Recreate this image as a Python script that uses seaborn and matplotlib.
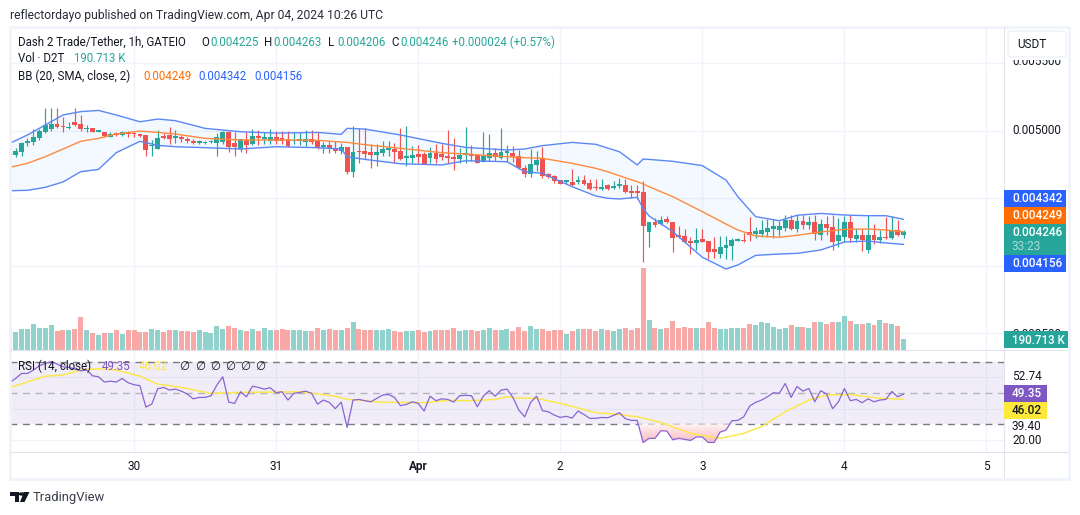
"""TradingView style D2T/USDT snapshot drawn with seaborn and matplotlib."""

import matplotlib.pyplot as plt
import numpy as np
import pandas as pd
import seaborn as sns
from matplotlib.patches import Circle, FancyBboxPatch, Polygon, Rectangle
from matplotlib.path import Path

W, H = 1080, 515
UP = "#26a69a"
DOWN = "#ef5350"
GRID = "#f0f3fa"
EDGE = "#e0e3eb"
INK = "#131722"
BLUE = "#2962ff"
ORANGE = "#ff6d00"
PURPLE = "#7e57c2"
YELLOW = "#ffeb3b"

# prices in millionths of a USDT, one row per hourly bar
opens = [
    4843, 4819, 4843, 4910, 4917, 4942, 4991, 5009, 5046, 5028,
    5016, 5063, 5046, 5011, 5016, 4991, 4986, 4954, 4974, 4967,
    4986, 4976, 4967, 4967, 4883, 4865, 4962, 4967, 4947, 4949,
    4937, 4922, 4910, 4907, 4912, 4910, 4912, 4991, 4905, 4863,
    4930, 4897, 4962, 4940, 4920, 4952, 4942, 4937, 4920, 4925,
    4915, 4937, 4930, 4878, 4893, 4873, 4851, 4878, 4693, 4846,
    4848, 4841, 4821, 4836, 4858, 4863, 4848, 4799, 4799, 4826,
    4826, 4796, 4831, 4823, 4804, 4804, 4789, 4821, 4823, 4818,
    4767, 4799, 4833, 4796, 4836, 4833, 4811, 4722, 4680, 4744,
    4789, 4678, 4663, 4633, 4621, 4619, 4621, 4633, 4611, 4579,
    4567, 4596, 4574, 4591, 4596, 4552, 4544, 4544, 4248, 4322,
    4307, 4344, 4322, 4226, 4218, 4181, 4167, 4194, 4181, 4122,
    4085, 4130, 4144, 4184, 4186, 4248, 4233, 4233, 4248, 4270,
    4263, 4278, 4337, 4270, 4330, 4300, 4322, 4226, 4307, 4285,
    4181, 4211, 4322, 4196, 4226, 4115, 4226, 4189, 4209, 4204, 4263, 4225,
]
highs = [
    4880, 4868, 4917, 4942, 5009, 5009, 5164, 5164, 5164, 5102,
    5065, 5164, 5115, 5041, 5019, 4996, 4991, 4991, 4991, 4996,
    4996, 4991, 4974, 4967, 4930, 5004, 4984, 5028, 5004, 4967,
    4954, 4934, 4930, 4925, 4930, 4979, 4999, 4999, 4991, 4934,
    4991, 5009, 5004, 4991, 5009, 4999, 4999, 4999, 4991, 4991,
    5004, 5004, 4991, 4917, 4925, 4925, 4905, 4878, 5033, 5016,
    5016, 4900, 4900, 4922, 4922, 4910, 5018, 5033, 4885, 4893,
    4843, 4875, 4900, 4900, 5004, 4945, 4868, 5023, 4893, 4818,
    4989, 4974, 4868, 5016, 4893, 4885, 4855, 4744, 4863, 4848,
    4878, 4685, 4670, 4633, 4626, 4715, 4663, 4670, 4641, 4641,
    4641, 4604, 4626, 4648, 4641, 4596, 4596, 4626, 4322, 4352,
    4367, 4367, 4322, 4293, 4270, 4211, 4278, 4270, 4181, 4214,
    4218, 4218, 4204, 4204, 4241, 4359, 4285, 4337, 4344, 4344,
    4330, 4374, 4374, 4374, 4374, 4367, 4374, 4342, 4367, 4374,
    4352, 4367, 4374, 4278, 4270, 4374, 4307, 4263, 4362, 4367, 4337, 4263,
]
lows = [
    4757, 4806, 4811, 4885, 4893, 4930, 4984, 4999, 5016, 4991,
    5009, 5033, 4999, 4991, 4989, 4989, 4949, 4949, 4959, 4959,
    4954, 4954, 4949, 4811, 4811, 4865, 4934, 4900, 4910, 4917,
    4910, 4900, 4900, 4900, 4905, 4814, 4900, 4843, 4814, 4843,
    4836, 4893, 4893, 4900, 4900, 4900, 4900, 4880, 4900, 4893,
    4885, 4900, 4863, 4836, 4836, 4836, 4826, 4678, 4656, 4762,
    4786, 4722, 4737, 4811, 4811, 4762, 4781, 4737, 4762, 4762,
    4752, 4759, 4757, 4781, 4762, 4707, 4757, 4757, 4777, 4757,
    4767, 4777, 4777, 4789, 4769, 4767, 4715, 4656, 4658, 4700,
    4648, 4646, 4614, 4604, 4601, 4589, 4604, 4596, 4559, 4559,
    4559, 4559, 4569, 4571, 4537, 4500, 4490, 4026, 4137, 4285,
    4300, 4315, 4100, 4204, 4167, 4085, 4115, 4174, 4048, 4058,
    4056, 4048, 4041, 4181, 4174, 4181, 4204, 4209, 4214, 4206,
    4221, 4256, 4263, 4248, 4268, 4268, 4189, 4189, 4226, 4115,
    4140, 4174, 4174, 4174, 4107, 4093, 4159, 4164, 4194, 4196, 4218, 4206,
]
closes = [
    4819, 4851, 4905, 4917, 4949, 4996, 5041, 5046, 5026, 5023,
    5021, 5041, 5014, 5016, 4991, 4996, 4957, 4974, 4969, 4986,
    4972, 4972, 4962, 4856, 4888, 4942, 4947, 4937, 4952, 4937,
    4925, 4905, 4917, 4912, 4920, 4949, 4991, 4875, 4880, 4934,
    4893, 4959, 4947, 4947, 4954, 4925, 4922, 4888, 4927, 4930,
    4937, 4915, 4873, 4893, 4873, 4848, 4878, 4693, 4841, 4841,
    4828, 4821, 4841, 4863, 4863, 4843, 4789, 4804, 4818, 4806,
    4754, 4831, 4789, 4806, 4799, 4791, 4818, 4826, 4811, 4762,
    4811, 4833, 4806, 4841, 4843, 4804, 4722, 4680, 4752, 4781,
    4663, 4653, 4626, 4606, 4626, 4596, 4633, 4606, 4567, 4574,
    4579, 4567, 4589, 4596, 4544, 4540, 4540, 4293, 4322, 4300,
    4337, 4322, 4204, 4211, 4174, 4167, 4189, 4174, 4100, 4100,
    4137, 4152, 4189, 4189, 4181, 4226, 4256, 4263, 4278, 4293,
    4293, 4337, 4270, 4330, 4300, 4322, 4233, 4307, 4278, 4174,
    4226, 4322, 4204, 4226, 4189, 4226, 4189, 4211, 4201, 4263, 4223, 4246,
]
# thousands of D2T
volumes = [
    347, 318, 364, 364, 451, 381, 381, 434, 329, 347,
    347, 364, 572, 347, 295, 260, 295, 295, 347, 277,
    347, 347, 312, 318, 364, 347, 312, 347, 347, 329,
    329, 312, 347, 312, 295, 416, 364, 416, 381, 347,
    329, 364, 329, 381, 347, 347, 364, 347, 347, 347,
    329, 329, 381, 347, 364, 347, 347, 381, 486, 364,
    347, 347, 347, 347, 364, 329, 312, 329, 329, 347,
    312, 329, 347, 347, 347, 381, 329, 347, 347, 329,
    347, 381, 347, 347, 364, 329, 399, 329, 416, 364,
    364, 329, 347, 347, 277, 329, 364, 364, 364, 329,
    364, 347, 329, 364, 381, 347, 381, 1422, 520, 381,
    364, 381, 503, 381, 399, 381, 381, 381, 486, 381,
    364, 364, 381, 381, 381, 451, 434, 486, 468, 399,
    364, 381, 434, 399, 399, 381, 486, 486, 451, 486,
    486, 590, 503, 451, 451, 468, 434, 520, 468, 451, 416, 191,
]
rsi_values = [
    56.6, 59.3, 62.5, 62.5, 64.7, 67.4, 68.9, 70.0, 68.5, 66.8,
    66.4, 65.3, 64.2, 64.7, 61.0, 60.4, 57.0, 57.6, 57.0, 59.3,
    56.6, 55.3, 54.7, 41.0, 42.9, 52.7, 53.6, 51.9, 52.5, 51.2,
    49.3, 46.3, 47.2, 47.2, 48.3, 55.1, 60.4, 44.2, 43.4, 50.8,
    47.6, 54.4, 53.6, 52.5, 53.4, 50.2, 50.8, 45.5, 49.8, 50.4,
    51.2, 49.8, 42.9, 45.5, 44.0, 40.0, 44.2, 28.0, 45.5, 45.9,
    45.1, 44.4, 46.6, 48.7, 49.1, 47.2, 41.9, 42.7, 44.4, 43.4,
    38.5, 48.0, 45.1, 46.3, 45.9, 44.2, 48.3, 48.5, 48.3, 41.2,
    48.0, 51.5, 48.0, 51.9, 52.5, 47.2, 39.1, 34.8, 44.0, 48.0,
    38.7, 38.0, 35.9, 34.4, 35.1, 34.0, 38.5, 36.3, 33.8, 33.8,
    34.4, 34.2, 35.7, 37.4, 33.6, 32.5, 32.5, 18.4, 21.0, 21.0,
    25.9, 25.7, 20.1, 21.0, 20.4, 19.7, 21.9, 21.9, 18.4, 18.4,
    25.0, 26.3, 32.3, 32.5, 34.8, 41.7, 44.0, 45.5, 47.6, 50.2,
    49.8, 56.1, 47.2, 54.2, 51.2, 52.9, 44.4, 51.5, 49.3, 40.0,
    44.4, 52.9, 45.1, 45.9, 43.8, 46.3, 44.4, 45.5, 45.9, 51.0, 47.6, 49.35,
]

# Bollinger bands, read at the bends of the curves
bb_bars = [
    0, 3, 6, 9, 12, 15, 18, 22, 25, 28, 33, 39, 45, 52, 56, 57, 60, 66, 73, 77, 84,
    87, 90, 95, 99, 101, 103, 106, 107, 108, 112, 117, 121, 123, 126, 130, 133, 137,
    141, 145, 148, 151,
]
bb_upper = [
    4905, 4967, 5041, 5115, 5140, 5149, 5115, 5065, 5085, 5073, 5016, 4991, 4981, 4986,
    4972, 5016, 5011, 4967, 4905, 4875, 4856, 4863, 4888, 4912, 4898, 4870, 4843, 4745,
    4789, 4786, 4772, 4740, 4633, 4510, 4362, 4332, 4372, 4386, 4374, 4369, 4369, 4342,
]
bb_middle = [
    4727, 4757, 4806, 4863, 4920, 4942, 4974, 4996, 4986, 4974, 4942, 4930, 4930, 4927,
    4915, 4912, 4895, 4868, 4836, 4826, 4806, 4799, 4794, 4757, 4720, 4695, 4665, 4621,
    4604, 4584, 4510, 4399, 4307, 4263, 4219, 4209, 4224, 4248, 4268, 4270, 4263, 4249,
]
bb_lower = [
    4554, 4557, 4579, 4619, 4695, 4712, 4836, 4920, 4890, 4880, 4873, 4863, 4880, 4873,
    4863, 4806, 4786, 4754, 4745, 4776, 4769, 4695, 4683, 4584, 4515, 4498, 4493, 4505,
    4423, 4367, 4251, 4061, 3974, 4004, 4075, 4085, 4090, 4115, 4174, 4181, 4167, 4156,
]

rsi_ma_bars = [
    0, 6, 9, 12, 15, 18, 22, 25, 29, 34, 39, 45, 49, 55, 57, 59, 62, 65, 70, 74, 78, 82,
    84, 86, 89, 93, 99, 102, 106, 110, 115, 120, 124, 127, 131, 135, 138, 142, 147, 151,
]
rsi_ma = [
    53.4, 60.8, 61.5, 64.7, 65.5, 64.7, 60.8, 55.7, 53.6, 49.8, 50.4, 50.6, 50.8, 48.0,
    45.9, 45.5, 44.2, 44.0, 43.8, 45.3, 45.1, 45.9, 47.6, 46.8, 46.6, 43.4, 37.4, 36.6,
    34.8, 31.2, 24.2, 21.0, 24.2, 28.5, 38.0, 45.5, 48.7, 49.1, 46.6, 46.02,
]

day_ticks = [21, 45, 69, 93, 117, 141, 165]
day_labels = ["30", "31", "Apr", "2", "3", "4", "5"]
price_ticks = [3500, 4000, 4500, 5000, 5500]
rsi_bands = [30, 50, 70]
rsi_grid = [20, 40, 60]

candles = pd.DataFrame({"open": opens, "high": highs, "low": lows, "close": closes, "volume": volumes})
candles["bar"] = np.arange(len(candles))
candles["side"] = np.where(candles["close"] >= candles["open"], "up", "down")
bands = pd.DataFrame({"bar": bb_bars, "upper": bb_upper, "middle": bb_middle, "lower": bb_lower})


def add_panel(fig, left, top, right, bottom, **kwargs):
    """Axes placed by screen pixels, origin at the top left of the picture."""
    return fig.add_axes([left / W, 1 - bottom / H, (right - left) / W, (bottom - top) / H], **kwargs)


def label(fig, x, y, text, color=INK, size=8.3, ha="left", zorder=10, **kwargs):
    return fig.text(x / W, 1 - y / H, text, color=color, fontsize=size, ha=ha, va="center", zorder=zorder, **kwargs)


def box(fig, left, top, right, bottom, color, zorder=6):
    fig.add_artist(
        Rectangle(
            (left / W, 1 - bottom / H), (right - left) / W, (bottom - top) / H,
            transform=fig.transFigure, facecolor=color, edgecolor="none", zorder=zorder,
        )
    )


def style_panel(ax):
    ax.set_xlim(0.05, 167.96)
    ax.set_xticks(day_ticks)
    ax.set_xlabel("")
    ax.set_ylabel("")
    ax.tick_params(length=0, labelleft=False, labelbottom=False)
    ax.grid(True, color=GRID, linewidth=1)
    ax.set_axisbelow(True)
    for spine in ax.spines.values():
        spine.set_visible(False)


def draw_price(ax):
    # Bands first, so the candles and the curves stay readable over the shading
    ax.fill_between(bands["bar"], bands["upper"], bands["lower"], color="#2196f3", alpha=0.05, linewidth=0)
    ax.vlines(candles["bar"], candles["low"], candles["high"],
              colors=[UP if s == "up" else DOWN for s in candles["side"]], linewidth=0.85, zorder=3)
    for side, color in (("up", UP), ("down", DOWN)):
        part = candles[candles["side"] == side]
        ax.bar(part["bar"], (part["close"] - part["open"]).abs().clip(lower=11),
               bottom=part[["open", "close"]].min(axis=1), width=0.82, color=color, linewidth=0, zorder=3)
    sns.lineplot(data=bands, x="bar", y="upper", color="#5b87f7", linewidth=1, ax=ax, zorder=4)
    sns.lineplot(data=bands, x="bar", y="lower", color="#5b87f7", linewidth=1, ax=ax, zorder=4)
    sns.lineplot(data=bands, x="bar", y="middle", color="#ff8a3c", linewidth=1, ax=ax, zorder=4)
    style_panel(ax)
    ax.set_ylim(3374, 5767)
    ax.set_yticks(price_ticks)


def draw_volume(ax):
    sns.barplot(
        data=candles, x="bar", y="volume", hue="side", hue_order=["up", "down"],
        palette={"up": "#92d2cc", "down": "#f7a9a7"}, dodge=False, width=0.84, saturation=1,
        native_scale=True, legend=False, linewidth=0, edgecolor="none", ax=ax,
    )
    style_panel(ax)
    ax.set_ylim(0, 5601)
    ax.set_yticks([])
    ax.grid(False)
    ax.patch.set_alpha(0)


def draw_rsi(ax):
    bars = candles["bar"]
    values = np.array(rsi_values)
    ax.axhspan(rsi_bands[0], rsi_bands[2], color=PURPLE, alpha=0.1, linewidth=0)
    for level, shade in zip(rsi_bands, ("#787b86", "#b2b5be", "#787b86")):
        ax.axhline(level, color=shade, linewidth=1, dashes=(5, 4))
    # oversold shading, pale at the 30 line and stronger towards the bottom
    fill = ax.fill_between(bars, values, rsi_bands[0], where=values < rsi_bands[0],
                           interpolate=True, color="none", linewidth=0)
    shade = np.linspace(0, 1, 64)[:, None, None]
    pale = np.array([1.0, 0.95, 0.95])
    pink = np.array([0.97, 0.69, 0.73])
    picture = pale + (pink - pale) * shade
    image = ax.imshow(picture, extent=(50, 125, 16, 30), aspect="auto", origin="upper", zorder=2)
    image.set_clip_path(Path.make_compound_path(*fill.get_paths()), transform=ax.transData)
    sns.lineplot(x=rsi_ma_bars, y=rsi_ma, color="#fde74c", linewidth=1.1, ax=ax, zorder=3)
    sns.lineplot(x=bars, y=values, color="#8a63d2", linewidth=0.9, ax=ax, zorder=4)
    style_panel(ax)
    ax.set_ylim(12.3, 77.5)
    ax.set_yticks(rsi_grid)
    ax.tick_params(labelbottom=True, pad=6, labelsize=8.5, labelcolor=INK)
    ax.set_xticklabels(day_labels)
    ax.get_xticklabels()[2].set_fontweight("bold")


def draw_overlays(fig):
    # frame and separators
    fig.add_artist(Rectangle((10 / W, 1 - 479 / H), 1059 / W, 452 / H, transform=fig.transFigure,
                             facecolor="none", edgecolor=GRID, linewidth=2, zorder=5))
    for y in (350, 452):
        box(fig, 10, y - 0.5, 1068, y + 0.5, EDGE, zorder=5)
    box(fig, 1004, 27, 1005, 478, EDGE, zorder=5)

    label(fig, 10, 15, "reflectordayo published on TradingView.com, Apr 04, 2024 10:26 UTC", color="#2a2e39", size=8.7)

    label(fig, 18, 42, "Dash 2 Trade/Tether, 1h, GATEIO")
    for x, head, value in ((201, "O", "0.004225"), (264, "H", "0.004263"), (328, "L", "0.004206"), (391, "C", "0.004246")):
        label(fig, x, 42, head)
        label(fig, x + 9, 42, value, color=UP)
    label(fig, 452, 42, "+0.000024 (+0.57%)", color=UP)
    label(fig, 18, 59, "Vol · D2T")
    label(fig, 74, 59, "190.713 K", color=UP)
    label(fig, 18, 76, "BB (20, SMA, close, 2)")
    label(fig, 143, 76, "0.004249", color=ORANGE)
    label(fig, 198, 76, "0.004342", color=BLUE)
    label(fig, 254, 76, "0.004156", color=BLUE)

    label(fig, 18, 366, "RSI (14, close)")
    label(fig, 102, 366, "49.35", color=PURPLE)
    label(fig, 139, 366, "46.02", color=YELLOW)
    for x in (179, 195, 210, 225, 240, 255):
        label(fig, x, 366, "∅")

    # price scale
    for y, text in ((61.5, "0.005500"), (130.5, "0.005000"), (334, "0.003500")):
        label(fig, 1012, y, text, zorder=5, size=8.5)
    box(fig, 1006, 29, 1068, 60, "white")
    fig.add_artist(FancyBboxPatch((1008 / W, 1 - 57 / H), 58 / W, 26 / H, boxstyle="round,pad=0,rounding_size=0.004",
                                  transform=fig.transFigure, facecolor="white", edgecolor=GRID, linewidth=1.2, zorder=6))
    label(fig, 1017, 44, "USDT", size=8.5)

    for top, bottom, color, text, y in (
        (190, 207, BLUE, "0.004342", 198.5),
        (207, 224, ORANGE, "0.004249", 215.5),
        (255, 272, BLUE, "0.004156", 263.5),
    ):
        box(fig, 1004, top, 1066, bottom, color)
        label(fig, 1012, y, text, color="white", size=8.5, fontweight="medium")
    box(fig, 1004, 224, 1066, 255, UP)
    label(fig, 1012, 232.5, "0.004246", color="white", size=8.5, fontweight="medium")
    label(fig, 1012, 246.5, "33:23", color="#a8dcd6", size=8.5)
    box(fig, 1004, 331, 1068, 348, UP)
    label(fig, 1012, 340, "190.713 K", color="white", size=8.3, fontweight="medium")

    # rsi scale
    for y, text in ((377, "52.74"), (427, "39.40"), (440, "20.00")):
        label(fig, 1012, y, text, zorder=5, size=8.5)
    box(fig, 1004, 385, 1047, 402, PURPLE)
    label(fig, 1012, 393.5, "49.35", color="white", size=8.5, fontweight="medium")
    box(fig, 1004, 402, 1047, 419, "#fde93a")
    label(fig, 1012, 410.5, "46.02", size=8.5, fontweight="medium")

    # logo and wordmark
    for points in (
        [(10, 492), (19.5, 492), (19.5, 502), (15, 502), (15, 495.5), (10, 495.5)],
        [(24, 492), (29.5, 492), (24.5, 502), (20, 502)],
    ):
        fig.add_artist(Polygon([(x / W, 1 - y / H) for x, y in points], transform=fig.transFigure, facecolor=INK, edgecolor="none"))
    fig.add_artist(Circle((22 / W, 1 - 494 / H), 1.7 / H, transform=fig.transFigure, facecolor=INK, edgecolor="none"))
    label(fig, 33, 497, "TradingView", color="#3a3e49", size=9.4)


def main():
    sns.set_theme(style="white")
    plt.rcParams["font.family"] = ["Roboto", "DejaVu Sans"]
    fig = plt.figure(figsize=(W / 100, H / 100), dpi=100, facecolor="white")
    price_ax = add_panel(fig, 10, 27, 1004, 350)
    volume_ax = add_panel(fig, 10, 27, 1004, 350)
    rsi_ax = add_panel(fig, 10, 350, 1004, 452)
    draw_price(price_ax)
    draw_volume(volume_ax)
    draw_rsi(rsi_ax)
    draw_overlays(fig)
    fig.savefig("out.png", dpi=100)


main()
